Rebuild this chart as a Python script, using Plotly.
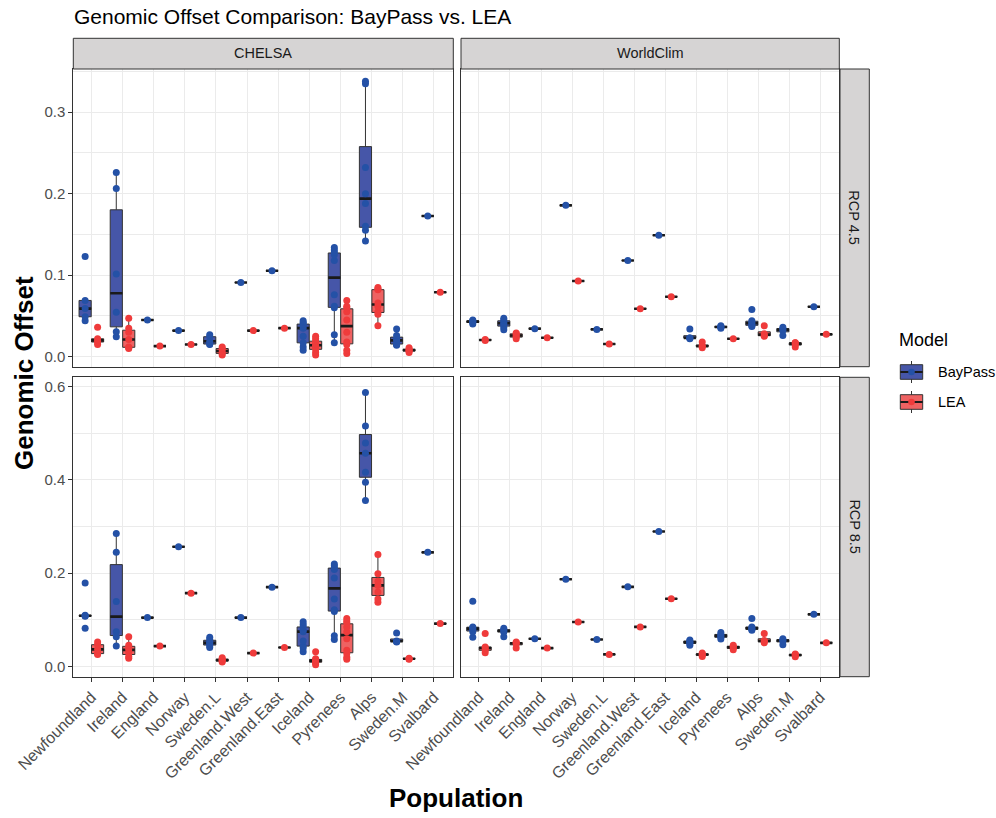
import numpy as np
import plotly.graph_objects as go

# ---------------------------------------------------------------- data
populations = ["Newfoundland", "Ireland", "England", "Norway", "Sweden.L",
               "Greenland.West", "Greenland.East", "Iceland", "Pyrenees",
               "Alps", "Sweden.M", "Svalbard"]
models = ["BayPass", "LEA"]
climates = ["CHELSA", "WorldClim"]
scenarios = ["RCP 4.5", "RCP 8.5"]

# genomic offset per sampling site, one list per population (order as above)
chelsa_rcp45_baypass = [
    [0.044, 0.049, 0.059, 0.069, 0.123],
    [0.0245, 0.0307, 0.0544, 0.1014, 0.2065, 0.226],
    [0.045], [0.032],
    [0.015, 0.0155, 0.019, 0.0245, 0.027],
    [0.091], [0.1055],
    [0.008, 0.012, 0.017, 0.025, 0.035, 0.038, 0.040, 0.042, 0.044],
    [0.017, 0.027, 0.060, 0.062, 0.076, 0.118, 0.125, 0.128, 0.131, 0.134],
    [0.142, 0.155, 0.160, 0.188, 0.200, 0.232, 0.335, 0.338],
    [0.014, 0.015, 0.016, 0.020, 0.022, 0.026, 0.034],
    [0.1726],
]
chelsa_rcp45_lea = [
    [0.015, 0.018, 0.020, 0.022, 0.036],
    [0.010, 0.011, 0.012, 0.021, 0.030, 0.035, 0.047],
    [0.013], [0.015],
    [0.002, 0.004, 0.007, 0.010, 0.012],
    [0.032], [0.035],
    [0.002, 0.005, 0.009, 0.012, 0.014, 0.016, 0.019, 0.022, 0.025],
    [0.004, 0.008, 0.015, 0.018, 0.030, 0.045, 0.055, 0.060, 0.062, 0.069],
    [0.038, 0.052, 0.055, 0.062, 0.066, 0.082, 0.083, 0.085],
    [0.005, 0.007, 0.008, 0.009, 0.011],
    [0.079],
]
worldclim_rcp45_baypass = [
    [0.040, 0.042, 0.043, 0.044, 0.045],
    [0.033, 0.036, 0.039, 0.041, 0.043, 0.045, 0.047],
    [0.0344], [0.1857], [0.0335], [0.118], [0.149],
    [0.022, 0.023, 0.023, 0.034],
    [0.035, 0.036, 0.037, 0.038],
    [0.037, 0.038, 0.040, 0.042, 0.044, 0.058],
    [0.026, 0.032, 0.034, 0.036],
    [0.0613],
]
worldclim_rcp45_lea = [
    [0.020, 0.021],
    [0.022, 0.024, 0.026, 0.028, 0.029],
    [0.0233], [0.0928], [0.0155], [0.0589], [0.0736],
    [0.011, 0.013, 0.013, 0.018],
    [0.022],
    [0.025, 0.026, 0.028, 0.038],
    [0.012, 0.015, 0.017, 0.017],
    [0.0274],
]
chelsa_rcp85_baypass = [
    [0.082, 0.108, 0.109, 0.110, 0.179],
    [0.044, 0.064, 0.0745, 0.1397, 0.2447, 0.285],
    [0.105], [0.2567],
    [0.041, 0.045, 0.050, 0.052, 0.058, 0.063],
    [0.105], [0.1702],
    [0.032, 0.040, 0.044, 0.055, 0.075, 0.078, 0.085, 0.090, 0.096],
    [0.058, 0.066, 0.118, 0.122, 0.145, 0.190, 0.208, 0.212, 0.216, 0.220],
    [0.356, 0.395, 0.416, 0.457, 0.479, 0.515, 0.587],
    [0.053, 0.054, 0.055, 0.072],
    [0.2447],
]
chelsa_rcp85_lea = [
    [0.026, 0.028, 0.037, 0.047, 0.053],
    [0.018, 0.022, 0.030, 0.036, 0.041, 0.046, 0.064],
    [0.044], [0.1574],
    [0.010, 0.012, 0.014, 0.016, 0.019],
    [0.029], [0.0411],
    [0.004, 0.008, 0.010, 0.012, 0.013, 0.015, 0.017, 0.032],
    [0.016, 0.020, 0.028, 0.035, 0.060, 0.075, 0.085, 0.094, 0.098, 0.103],
    [0.138, 0.145, 0.160, 0.174, 0.183, 0.199, 0.240],
    [0.016, 0.017, 0.018],
    [0.0922],
]
worldclim_rcp85_baypass = [
    [0.063, 0.075, 0.080, 0.083, 0.085, 0.140],
    [0.064, 0.074, 0.077, 0.079, 0.082],
    [0.0596], [0.1872], [0.0582], [0.1709], [0.2894],
    [0.046, 0.050, 0.052, 0.055, 0.057],
    [0.059, 0.063, 0.066, 0.069, 0.073],
    [0.078, 0.080, 0.082, 0.085, 0.103],
    [0.047, 0.055, 0.057, 0.060],
    [0.112],
]
worldclim_rcp85_lea = [
    [0.030, 0.035, 0.040, 0.042, 0.071],
    [0.040, 0.049, 0.051, 0.053],
    [0.0397], [0.0957], [0.0262], [0.0851], [0.1454],
    [0.022, 0.025, 0.027, 0.029],
    [0.036, 0.040, 0.043, 0.046],
    [0.051, 0.054, 0.056, 0.071],
    [0.021, 0.024, 0.026, 0.027],
    [0.051],
]

panels = {
    ("CHELSA", "RCP 4.5"): (chelsa_rcp45_baypass, chelsa_rcp45_lea),
    ("WorldClim", "RCP 4.5"): (worldclim_rcp45_baypass, worldclim_rcp45_lea),
    ("CHELSA", "RCP 8.5"): (chelsa_rcp85_baypass, chelsa_rcp85_lea),
    ("WorldClim", "RCP 8.5"): (worldclim_rcp85_baypass, worldclim_rcp85_lea),
}

row_ticks = {"RCP 4.5": [0.0, 0.1, 0.2, 0.3], "RCP 8.5": [0.0, 0.2, 0.4, 0.6]}
row_minor = {"RCP 4.5": [0.05, 0.15, 0.25, 0.35], "RCP 8.5": [0.1, 0.3, 0.5]}
row_range = {"RCP 4.5": [-0.0123, 0.353], "RCP 8.5": [-0.0215, 0.6195]}

# ---------------------------------------------------------------- style
W, H = 996, 818
FONT = "Liberation Sans, Arial, sans-serif"
point_col = {"BayPass": "#2451A6", "LEA": "#EF3B3B"}
fill_col = {"BayPass": "#4656A8", "LEA": "#EE6262"}
dodge = {"BayPass": -0.2, "LEA": 0.2}
BOX_W = 0.39

panel_px_x = {"CHELSA": (73.3, 453.3), "WorldClim": (461.0, 839.3)}
panel_px_y = {"RCP 4.5": (69.0, 366.7), "RCP 8.5": (377.3, 676.7)}


def fx(p):
    return p / W


def fy(p):
    return 1 - p / H


def box_stats(vals):
    v = np.sort(np.asarray(vals, dtype=float))
    q1, med, q3 = np.percentile(v, [25, 50, 75])
    iqr = q3 - q1
    lo = v[v >= q1 - 1.5 * iqr - 1e-12].min()
    hi = v[v <= q3 + 1.5 * iqr + 1e-12].max()
    return q1, med, q3, lo, hi


fig = go.Figure()
layout = {}
axis_index = {}
for k, (clim, scen) in enumerate([("CHELSA", "RCP 4.5"), ("WorldClim", "RCP 4.5"),
                                  ("CHELSA", "RCP 8.5"), ("WorldClim", "RCP 8.5")]):
    axis_index[(clim, scen)] = k + 1

box_traces, median_traces, point_traces = [], [], []
for (clim, scen), series in panels.items():
    idx = axis_index[(clim, scen)]
    xa = "x" if idx == 1 else f"x{idx}"
    ya = "y" if idx == 1 else f"y{idx}"
    for model, data in zip(models, series):
        pos = [i + dodge[model] for i in range(len(populations))]
        stats = [box_stats(v) for v in data]
        q1 = [s[0] for s in stats]
        med = [s[1] for s in stats]
        q3 = [s[2] for s in stats]
        lo = [s[3] for s in stats]
        hi = [s[4] for s in stats]
        box_traces.append(go.Box(
            x=pos, q1=q1, median=med, q3=q3, lowerfence=lo, upperfence=hi,
            width=BOX_W, fillcolor=fill_col[model],
            line=dict(color="#333333", width=1), whiskerwidth=0,
            boxpoints=False, name=model, showlegend=False,
            xaxis=xa, yaxis=ya, hoverinfo="skip"))
        mx, my = [], []
        for p, m in zip(pos, med):
            mx += [p - BOX_W / 2, p + BOX_W / 2, None]
            my += [m, m, None]
        median_traces.append(go.Scatter(
            x=mx, y=my, mode="lines", line=dict(color="#1A1A1A", width=2.6),
            showlegend=False, xaxis=xa, yaxis=ya, hoverinfo="skip"))
        px_, py_ = [], []
        for p, vals in zip(pos, data):
            px_ += [p] * len(vals)
            py_ += list(vals)
        point_traces.append(go.Scatter(
            x=px_, y=py_, mode="markers",
            marker=dict(color=point_col[model], size=7, line=dict(width=0)),
            showlegend=False, xaxis=xa, yaxis=ya, name=model))

for t in box_traces + median_traces + point_traces:
    fig.add_trace(t)

for (clim, scen), idx in axis_index.items():
    x0, x1 = panel_px_x[clim]
    ytop, ybot = panel_px_y[scen]
    bottom = scen == "RCP 8.5"
    left = clim == "CHELSA"
    xkey = "xaxis" if idx == 1 else f"xaxis{idx}"
    ykey = "yaxis" if idx == 1 else f"yaxis{idx}"
    ya = "y" if idx == 1 else f"y{idx}"
    xa = "x" if idx == 1 else f"x{idx}"
    layout[xkey] = dict(
        domain=[fx(x0), fx(x1)], anchor=ya, range=[-0.58, 11.62],
        automargin=False,
        tickmode="array", tickvals=list(range(len(populations))),
        ticktext=populations, showticklabels=bottom,
        ticks="outside" if bottom else "", ticklen=4, tickwidth=1,
        tickcolor="#333333", tickangle=-45,
        tickfont=dict(family=FONT, size=16, color="#4D4D4D"),
        showgrid=True, gridcolor="#EBEBEB", gridwidth=1.1, zeroline=False,
        showline=True, mirror=True, linecolor="#333333", linewidth=1)
    layout[ykey] = dict(
        domain=[fy(ybot), fy(ytop)], anchor=xa, range=row_range[scen],
        automargin=False,
        tickmode="array", tickvals=row_ticks[scen],
        ticktext=[f"{v:.1f}" for v in row_ticks[scen]], showticklabels=left,
        ticks="outside" if left else "", ticklen=4, tickwidth=1,
        tickcolor="#333333",
        tickfont=dict(family=FONT, size=15, color="#4D4D4D"),
        showgrid=True, gridcolor="#EBEBEB", gridwidth=1.1, zeroline=False,
        minor=dict(tickmode="array", tickvals=row_minor[scen], showgrid=True,
                   gridcolor="#EBEBEB", gridwidth=0.55, ticks=""),
        showline=True, mirror=True, linecolor="#333333", linewidth=1)

shapes, annotations = [], []
strip_fill, strip_line = "#D6D4D4", "#333333"
# column strips
for clim in climates:
    x0, x1 = panel_px_x[clim]
    shapes.append(dict(type="rect", xref="paper", yref="paper",
                       x0=fx(x0), x1=fx(x1), y0=fy(69.0), y1=fy(38.3),
                       fillcolor=strip_fill, line=dict(color=strip_line, width=1)))
    annotations.append(dict(xref="paper", yref="paper", x=fx((x0 + x1) / 2),
                            y=fy(53.5), text=clim, showarrow=False,
                            font=dict(family=FONT, size=14.5, color="#1A1A1A"),
                            xanchor="center", yanchor="middle"))
# row strips
for scen in scenarios:
    ytop, ybot = panel_px_y[scen]
    shapes.append(dict(type="rect", xref="paper", yref="paper",
                       x0=fx(840.0), x1=fx(869.3), y0=fy(ybot), y1=fy(ytop),
                       fillcolor=strip_fill, line=dict(color=strip_line, width=1)))
    annotations.append(dict(xref="paper", yref="paper", x=fx(854.6),
                            y=fy((ytop + ybot) / 2), text=scen, showarrow=False,
                            textangle=90,
                            font=dict(family=FONT, size=14.5, color="#1A1A1A"),
                            xanchor="center", yanchor="middle"))

# legend: boxplot-style keys drawn next to the facet grid
annotations.append(dict(xref="paper", yref="paper", x=fx(897), y=fy(340),
                        text="Model", showarrow=False, xanchor="left",
                        yanchor="middle",
                        font=dict(family=FONT, size=18, color="#000000")))
key_x0, key_x1 = 900.3, 922.7
key_cx = (key_x0 + key_x1) / 2
for model, cy in zip(models, [372.0, 402.0]):
    shapes.append(dict(type="line", xref="paper", yref="paper",
                       x0=fx(key_cx), x1=fx(key_cx), y0=fy(cy - 11), y1=fy(cy + 11),
                       line=dict(color="#333333", width=1)))
    shapes.append(dict(type="rect", xref="paper", yref="paper",
                       x0=fx(key_x0), x1=fx(key_x1), y0=fy(cy + 7.3), y1=fy(cy - 7.3),
                       fillcolor=fill_col[model], line=dict(color="#333333", width=1)))
    shapes.append(dict(type="line", xref="paper", yref="paper",
                       x0=fx(key_x0), x1=fx(key_x1), y0=fy(cy), y1=fy(cy),
                       line=dict(color="#1A1A1A", width=2)))
    shapes.append(dict(type="circle", xref="paper", yref="paper",
                       x0=fx(key_cx - 3.3), x1=fx(key_cx + 3.3),
                       y0=fy(cy + 3.3), y1=fy(cy - 3.3),
                       fillcolor=point_col[model], line=dict(width=0)))
    annotations.append(dict(xref="paper", yref="paper", x=fx(935.5), y=fy(cy),
                            text=model, showarrow=False, xanchor="left",
                            yanchor="middle",
                            font=dict(family=FONT, size=14.5, color="#000000")))

annotations.append(dict(xref="paper", yref="paper", x=fx(72), y=fy(16.5),
                        text="Genomic Offset Comparison: BayPass vs. LEA",
                        showarrow=False, xanchor="left", yanchor="middle",
                        font=dict(family=FONT, size=21, color="#000000")))
annotations.append(dict(xref="paper", yref="paper", x=fx(24), y=fy(373),
                        text="<b>Genomic Offset</b>", showarrow=False,
                        textangle=-90, xanchor="center", yanchor="middle",
                        font=dict(family=FONT, size=26, color="#000000")))
annotations.append(dict(xref="paper", yref="paper", x=fx(456), y=fy(798),
                        text="<b>Population</b>", showarrow=False,
                        xanchor="center", yanchor="middle",
                        font=dict(family=FONT, size=26, color="#000000")))

fig.update_layout(
    width=W, height=H, margin=dict(l=0, r=0, t=0, b=0, autoexpand=False),
    paper_bgcolor="white", plot_bgcolor="white",
    boxmode="overlay", showlegend=False,
    shapes=shapes, annotations=annotations,
    **layout)

fig.write_html("out.html")
